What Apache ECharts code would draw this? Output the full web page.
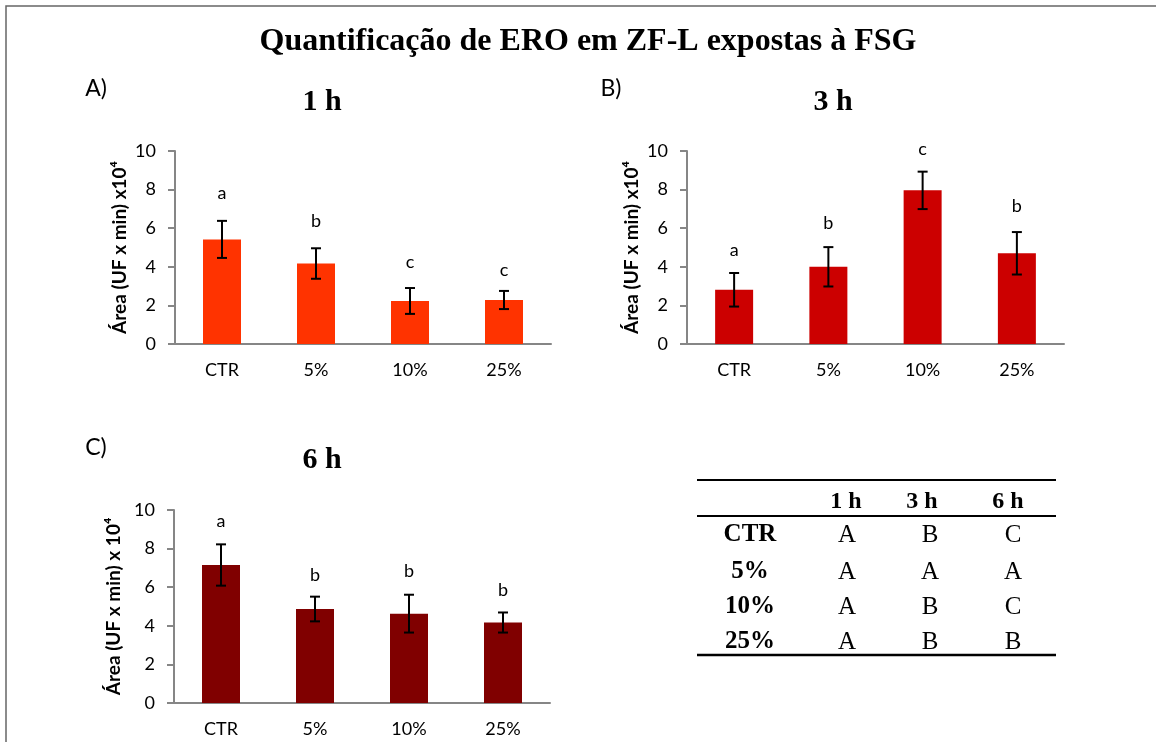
<!DOCTYPE html>
<html lang="pt">
<head>
<meta charset="UTF-8">
<title>Quantificação de ERO em ZF-L expostas à FSG</title>
<script src="https://cdn.jsdelivr.net/npm/echarts@6/dist/echarts.min.js"></script>
</head>
<body style="margin:0;background:#fff">

<div id="chart" style="width:1156px;height:742px"></div>

<script>
// categorias e dados (x10^4)
var categories = ['CTR', '5%', '10%', '25%'];

var mean1h = [5.42, 4.17, 2.23, 2.28];
var err1h = [0.96, 0.79, 0.67, 0.47];
var letters1h = ['a', 'b', 'c', 'c'];
var letterY1h = [7.8, 6.35, 4.25, 3.8];

var mean3h = [2.81, 4.0, 7.96, 4.7];
var err3h = [0.87, 1.02, 0.97, 1.1];
var letters3h = ['a', 'b', 'c', 'b'];
var letterY3h = [4.87, 6.27, 10.09, 7.15];

var mean6h = [7.15, 4.87, 4.63, 4.17];
var err6h = [1.07, 0.64, 0.98, 0.52];
var letters6h = ['a', 'b', 'b', 'b'];
var letterY6h = [9.44, 6.6, 6.85, 5.85];

// tabela de comparações entre tempos
var tableCols = ['1 h', '3 h', '6 h'];
var tableRows = ['CTR', '5%', '10%', '25%'];
var tableCells = [
    ['A', 'B', 'C'],
    ['A', 'A', 'A'],
    ['A', 'B', 'C'],
    ['A', 'B', 'B']
];

var sans = 'Lato';
var serif = '"Liberation Serif", "Times New Roman", serif';
var axisGray = '#868686';

var grids = [
    {left: 175, top: 151, width: 376, height: 193},
    {left: 687, top: 151, width: 377, height: 193},
    {left: 174, top: 510, width: 376, height: 193}
];
var yNames = ['Área (UF x min) x10⁴', 'Área (UF x min) x10⁴', 'Área (UF x min) x 10⁴'];
var yGaps = [46, 46, 51];

function xAxisOf(i) {
    return {
        type: 'category', gridIndex: i, data: categories,
        axisLine: {lineStyle: {color: axisGray, width: 2}},
        axisTick: {length: 6, lineStyle: {color: axisGray, width: 2}},
        axisLabel: {color: '#000', fontFamily: sans, fontSize: 18, margin: 17}
    };
}
function yAxisOf(i) {
    return {
        type: 'value', gridIndex: i, min: 0, max: 10, interval: 2,
        name: yNames[i], nameLocation: 'middle', nameGap: yGaps[i], nameRotate: 90,
        nameTextStyle: {color: '#000', fontFamily: sans, fontSize: 19, fontWeight: 'bold'},
        axisLine: {show: true, lineStyle: {color: axisGray, width: 2}},
        axisTick: {show: true, length: 7, lineStyle: {color: axisGray, width: 2}},
        axisLabel: {color: '#000', fontFamily: sans, fontSize: 18, margin: 19},
        splitLine: {show: false}
    };
}

function barSeries(i, data, color) {
    return {
        type: 'bar', xAxisIndex: i, yAxisIndex: i, data: data, barWidth: 38,
        itemStyle: {color: color}
    };
}

function errorSeries(i, mean, err) {
    return {
        type: 'custom', xAxisIndex: i, yAxisIndex: i, z: 10,
        data: mean.map(function (m, k) { return [k, m - err[k], m + err[k]]; }),
        renderItem: function (params, api) {
            var lo = api.coord([api.value(0), api.value(1)]);
            var hi = api.coord([api.value(0), api.value(2)]);
            var w = 5;
            var st = {stroke: '#000', lineWidth: 2};
            return {type: 'group', children: [
                {type: 'line', shape: {x1: hi[0], y1: hi[1], x2: lo[0], y2: lo[1]}, style: st},
                {type: 'line', shape: {x1: hi[0] - w, y1: hi[1], x2: hi[0] + w, y2: hi[1]}, style: st},
                {type: 'line', shape: {x1: lo[0] - w, y1: lo[1], x2: lo[0] + w, y2: lo[1]}, style: st}
            ]};
        }
    };
}

function letterSeries(i, ys, letters) {
    return {
        type: 'custom', xAxisIndex: i, yAxisIndex: i, z: 10, clip: false,
        data: ys.map(function (y, k) { return [k, y]; }),
        renderItem: function (params, api) {
            var p = api.coord([api.value(0), api.value(1)]);
            return {type: 'text', x: p[0], y: p[1], style: {
                text: letters[params.dataIndex], fill: '#000',
                fontFamily: sans, fontSize: 18, align: 'center', verticalAlign: 'middle'
            }};
        }
    };
}

function txt(x, y, s, font, size, weight) {
    return {type: 'text', x: x, y: y, style: {
        text: s, fill: '#000', fontFamily: font, fontSize: size, fontWeight: weight || 'normal',
        align: 'center', verticalAlign: 'middle'
    }};
}
function hline(x1, x2, y, w) {
    return {type: 'line', shape: {x1: x1, y1: y, x2: x2, y2: y}, style: {stroke: '#000', lineWidth: w}};
}

var graphics = [
    {type: 'polyline', shape: {points: [[6, 742], [6, 6], [1156, 6]]}, style: {stroke: '#666', lineWidth: 1.5, fill: null}},
    txt(588, 42, 'Quantificação de ERO em ZF-L expostas à FSG', serif, 32, 'bold'),
    txt(96, 89, 'A)', sans, 23),
    txt(611, 89, 'B)', sans, 23),
    txt(96, 448, 'C)', sans, 23),
    txt(322, 102, '1 h', serif, 30, 'bold'),
    txt(833, 102, '3 h', serif, 30, 'bold'),
    txt(322, 460, '6 h', serif, 30, 'bold'),
    hline(697, 1056, 480, 2),
    hline(697, 1056, 516, 2),
    hline(697, 1056, 655, 2.5)
];

var headX = [846, 922, 1008];
var cellX = [847, 930, 1013];
var rowY = [535, 572, 607, 642];
tableCols.forEach(function (c, j) { graphics.push(txt(headX[j], 502, c, serif, 24, 'bold')); });
tableRows.forEach(function (r, k) {
    graphics.push(txt(750, rowY[k], r, serif, 25, 'bold'));
    tableCells[k].forEach(function (v, j) { graphics.push(txt(cellX[j], rowY[k], v, serif, 25)); });
});

var chart = echarts.init(document.getElementById('chart'));
var option = {
    backgroundColor: '#fff',
    animation: false,
    grid: grids,
    xAxis: [xAxisOf(0), xAxisOf(1), xAxisOf(2)],
    yAxis: [yAxisOf(0), yAxisOf(1), yAxisOf(2)],
    series: [
        barSeries(0, mean1h, '#FF3300'),
        errorSeries(0, mean1h, err1h),
        letterSeries(0, letterY1h, letters1h),
        barSeries(1, mean3h, '#CC0000'),
        errorSeries(1, mean3h, err3h),
        letterSeries(1, letterY3h, letters3h),
        barSeries(2, mean6h, '#800000'),
        errorSeries(2, mean6h, err6h),
        letterSeries(2, letterY6h, letters6h)
    ],
    graphic: graphics
};
chart.setOption(option);
</script>

</body>
</html>
